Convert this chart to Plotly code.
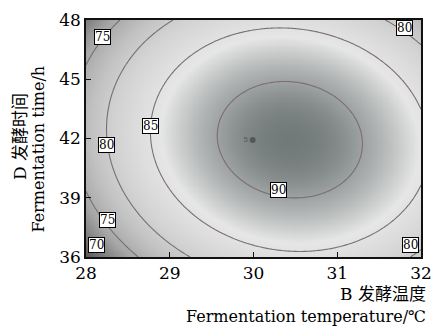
import numpy as np
import plotly.graph_objects as go

# Axis ranges and tick positions
temp_range = [28, 32]
time_range = [36, 48]
temp_ticks = [28, 29, 30, 31, 32]
time_ticks = [36, 39, 42, 45, 48]

# Quadratic response model around its stationary point:
# Y = peak - a*U^2 - b*V^2 - e*U*V, with U = (B - B0)/2, V = (D - D0)/6
model_peak = 91.86
model_center = [30.434, 41.94]
model_quad = [9.95, 7.75]
model_cross = 1.25
coded_half_range = [2.0, 6.0]

contour_levels = [70, 75, 80, 85, 90]

# Boxed contour labels (level, temperature, time)
label_levels = [75, 80, 85, 90, 80, 80, 75, 70]
label_temp = [28.20, 28.24, 28.77, 30.30, 31.80, 31.87, 28.26, 28.12]
label_time = [47.16, 41.68, 42.65, 39.37, 47.58, 36.60, 37.86, 36.62]

# Centre design point (replicate count shown next to it)
design_temp = [29.99]
design_time = [41.93]
design_count = ["5"]

# Response surface on a fine grid
bx = np.linspace(temp_range[0], temp_range[1], 201)
dy = np.linspace(time_range[0], time_range[1], 201)
BX, DY = np.meshgrid(bx, dy)
U = (BX - model_center[0]) / coded_half_range[0]
V = (DY - model_center[1]) / coded_half_range[1]
Z = model_peak - model_quad[0] * U**2 - model_quad[1] * V**2 - model_cross * U * V

zmin, zmax = 66, 92
stops = [
    (66, "#3a3a3a"),
    (70, "#727272"),
    (74, "#a6a6a6"),
    (78, "#c2c2c2"),
    (81, "#d2d2d2"),
    (84, "#dedede"),
    (86, "#e6e6e6"),
    (88, "#c4c6c6"),
    (90, "#9ea2a2"),
    (92, "#6e7676"),
]
colorscale = [[(v - zmin) / (zmax - zmin), c] for v, c in stops]

latin_serif = "DejaVu Serif, Liberation Serif, serif"
cjk_serif = "DejaVu Serif, Liberation Serif, Noto Sans CJK SC, serif"

fig = go.Figure()
fig.add_trace(go.Contour(
    x=bx, y=dy, z=Z,
    zmin=zmin, zmax=zmax,
    colorscale=colorscale,
    showscale=False,
    autocontour=False,
    contours=dict(start=contour_levels[0], end=contour_levels[-1],
                  size=contour_levels[1] - contour_levels[0],
                  coloring="heatmap", showlabels=False),
    line=dict(color="#7a6e6e", width=1.1),
    hoverinfo="skip",
))

fig.add_trace(go.Scatter(
    x=design_temp, y=design_time,
    mode="markers+text",
    marker=dict(color="#505a5a", size=6),
    text=design_count,
    textposition="middle left",
    textfont=dict(family="Arial, sans-serif", size=8, color="#505a5a"),
    hoverinfo="skip", showlegend=False,
))

annotations = []
for lvl, tx, ty in zip(label_levels, label_temp, label_time):
    annotations.append(dict(
        x=tx, y=ty, xref="x", yref="y", text=str(lvl), showarrow=False,
        font=dict(family=latin_serif, size=12, color="black"),
        bgcolor="white", bordercolor="black", borderwidth=1, borderpad=0,
    ))

# Axis titles (Chinese line plus English line)
annotations += [
    dict(text="B 发酵温度", xref="paper", yref="paper", x=1.0, y=-0.158,
         xanchor="right", yanchor="middle", xshift=7, showarrow=False,
         font=dict(family=cjk_serif, size=17, color="black")),
    dict(text="Fermentation temperature/℃", xref="paper", yref="paper", x=1.0, y=-0.250,
         xanchor="right", yanchor="middle", xshift=7, showarrow=False,
         font=dict(family=cjk_serif, size=16, color="black")),
    dict(text="D 发酵时间", xref="paper", yref="paper", x=-0.199, y=0.508,
         xanchor="center", yanchor="middle", textangle=-90, showarrow=False,
         font=dict(family=cjk_serif, size=17, color="black")),
    dict(text="Fermentation time/h", xref="paper", yref="paper", x=-0.142, y=0.455,
         xanchor="center", yanchor="middle", textangle=-90, showarrow=False,
         font=dict(family=latin_serif, size=16, color="black")),
]

axis_common = dict(
    showgrid=False, zeroline=False, showline=True, mirror=True,
    linecolor="#111111", linewidth=1.5,
    ticks="inside", ticklen=5, tickwidth=1, tickcolor="#111111",
    tickfont=dict(family=latin_serif, size=17, color="black"),
)

fig.update_layout(
    width=442, height=330,
    margin=dict(l=86, r=10, t=15, b=73),
    paper_bgcolor="white", plot_bgcolor="white",
    xaxis=dict(range=temp_range, tickvals=temp_ticks, **axis_common),
    yaxis=dict(range=time_range, tickvals=time_ticks, **axis_common),
    annotations=annotations,
    showlegend=False,
)

fig.write_html("out.html")
